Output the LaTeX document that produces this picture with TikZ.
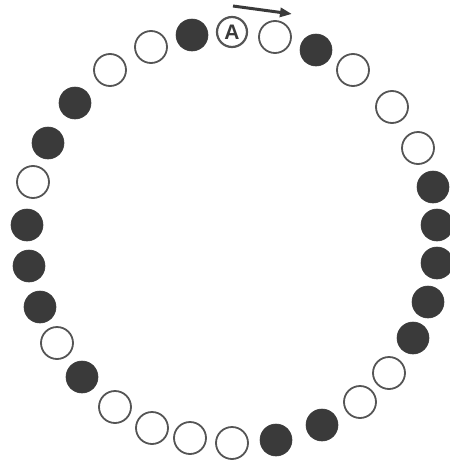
\documentclass[tikz,border=0pt]{standalone}
\usepackage{fontspec}
\setmainfont{Liberation Sans}
\usetikzlibrary{arrows.meta}
\definecolor{ink}{HTML}{3A3A3A}
\definecolor{rim}{HTML}{555555}
\tikzset{
  bead/.style={circle, minimum size=32pt, inner sep=0pt},
  darkbead/.style={bead, fill=ink, draw=ink, line width=0.6pt},
  openbead/.style={bead, fill=white, draw=rim, line width=1.8pt},
  labelbead/.style={bead, minimum size=30pt, fill=white, draw=rim, line width=2.2pt, font=\bfseries\fontsize{21}{21}\selectfont, text=ink},
  dirarrow/.style={draw=ink, line width=3pt, -{Triangle[length=12pt,width=9pt]}}
}
\begin{document}
\begin{tikzpicture}[x=1pt,y=-1pt]
\useasboundingbox (0,0) rectangle (450,461);
\node[labelbead] (c0) at (232,32) {A};
\foreach \i/\x/\y/\s in {
  1/275/37/openbead, 2/316/50/darkbead, 3/353/70/openbead, 4/392/107/openbead,
  5/418/148/openbead, 6/433/187/darkbead, 7/437/225/darkbead, 8/437/263/darkbead,
  9/428/302/darkbead, 10/413/338/darkbead, 11/389/373/openbead, 12/360/402/openbead,
  13/322/425/darkbead, 14/276/440/darkbead, 15/232/443/openbead, 16/190/438/openbead,
  17/152/428/openbead, 18/115/407/openbead, 19/82/377/darkbead, 20/57/343/openbead,
  21/40/307/darkbead, 22/29/266/darkbead, 23/27/225/darkbead, 24/33/182/openbead,
  25/48/143/darkbead, 26/75/103/darkbead, 27/110/70/openbead, 28/151/47/openbead,
  29/192/35/darkbead}
  {\node[\s] (c\i) at (\x,\y) {};}
\coordinate (arrS) at (233,6);
\coordinate (arrE) at (292,14);
\draw[dirarrow] (arrS) -- (arrE);
\end{tikzpicture}
\end{document}
